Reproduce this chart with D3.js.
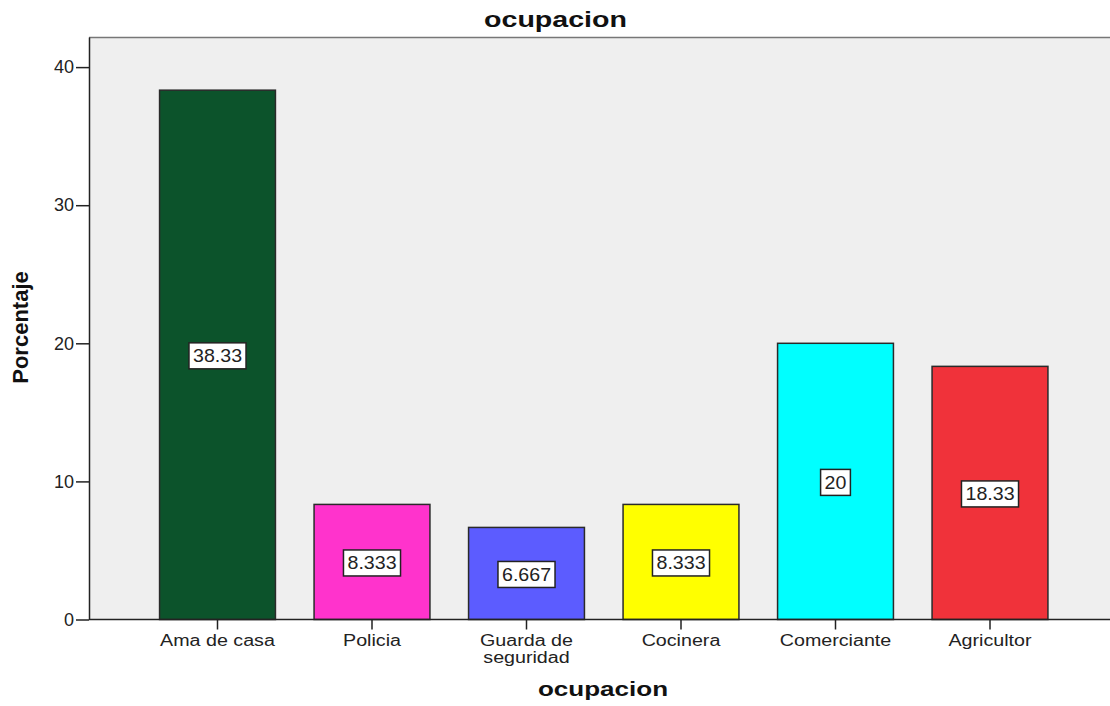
<!DOCTYPE html>
<html>
<head>
<meta charset="utf-8">
<script src="https://cdn.jsdelivr.net/npm/d3@7"></script>
<style>
  body { margin: 0; background: #fff; }
  svg { display: block; font-family: "Liberation Sans", Arial, sans-serif; }
</style>
</head>
<body>
<svg id="chart" width="1110" height="706"></svg>
<script>
// Occupation distribution (percent)
const categories = ["Ama de casa", "Policia", "Guarda de seguridad", "Cocinera", "Comerciante", "Agricultor"];
const categoryLines = [["Ama de casa"], ["Policia"], ["Guarda de", "seguridad"], ["Cocinera"], ["Comerciante"], ["Agricultor"]];
const percentages = [38.33, 8.333, 6.667, 8.333, 20, 18.33];
const valueLabels = ["38.33", "8.333", "6.667", "8.333", "20", "18.33"];
const barColors = ["#0c532b", "#ff33cc", "#5c5cff", "#ffff00", "#00ffff", "#f0323a"];
const yTicks = [0, 10, 20, 30, 40];

const svg = d3.select("#chart");
const plot = { left: 89, top: 37, right: 1110, bottom: 619.5 };
const FONT = "'Liberation Sans', Arial, sans-serif";

const x = d3.scaleBand()
  .domain(categories)
  .range([140.25, 1067.25])
  .paddingInner(0.25)
  .paddingOuter(0.125);

const y = d3.scaleLinear()
  .domain([0, 42.18])
  .range([plot.bottom, plot.top]);

// Plot background
svg.append("rect")
  .attr("x", plot.left).attr("y", plot.top)
  .attr("width", plot.right - plot.left).attr("height", plot.bottom - plot.top)
  .attr("fill", "#efefef");

// Top frame line
svg.append("line")
  .attr("x1", plot.left).attr("x2", plot.right)
  .attr("y1", plot.top + 0.5).attr("y2", plot.top + 0.5)
  .attr("stroke", "#777").attr("stroke-width", 1.5);

// Bars
svg.append("g").selectAll("rect")
  .data(categories)
  .join("rect")
  .attr("x", d => x(d))
  .attr("y", (d, i) => y(percentages[i]))
  .attr("width", x.bandwidth())
  .attr("height", (d, i) => y(0) - y(percentages[i]))
  .attr("fill", (d, i) => barColors[i])
  .attr("stroke", "#2a2a2a")
  .attr("stroke-width", 1.5);

// Value labels in boxes at half bar height
const labels = svg.append("g").selectAll("g")
  .data(categories)
  .join("g")
  .attr("transform", (d, i) => `translate(${x(d) + x.bandwidth() / 2},${y(percentages[i] / 2) + 1})`);

labels.append("text")
  .attr("text-anchor", "middle")
  .attr("dy", "0.36em")
  .attr("font-size", 18)
  .attr("fill", "#222")
  .attr("transform", "scale(1.09,1)")
  .text((d, i) => valueLabels[i])
  .each(function () {
    const bb = this.getBBox();
    const w = bb.width * 1.09;
    d3.select(this.parentNode).insert("rect", "text")
      .attr("x", -w / 2 - 4).attr("y", -13)
      .attr("width", w + 8).attr("height", 26)
      .attr("fill", "#fff")
      .attr("stroke", "#222")
      .attr("stroke-width", 1.5);
  });

// Y axis
const yAxis = svg.append("g")
  .attr("transform", `translate(${plot.left},0)`)
  .call(d3.axisLeft(y).tickValues(yTicks).tickSize(13).tickPadding(2).tickSizeOuter(0));
yAxis.select(".domain").attr("stroke", "#222").attr("stroke-width", 1.5);
yAxis.selectAll(".tick line").attr("stroke", "#222").attr("stroke-width", 1.5);
yAxis.selectAll(".tick text").attr("font-size", 18).attr("fill", "#222")
  .attr("font-family", FONT);

// X axis
const xAxis = svg.append("g")
  .attr("transform", `translate(0,${plot.bottom})`)
  .call(d3.axisBottom(x).tickSize(10).tickSizeOuter(0).tickFormat(""));
xAxis.select(".domain").attr("d", `M${plot.left},0H${plot.right}`)
  .attr("stroke", "#222").attr("stroke-width", 1.5);
xAxis.selectAll(".tick line").attr("stroke", "#222").attr("stroke-width", 1.5);

// Category labels, one text element per line
xAxis.selectAll(".tick")
  .selectAll("text.cat")
  .data(d => categoryLines[categories.indexOf(d)])
  .join("text")
  .attr("class", "cat")
  .attr("text-anchor", "middle")
  .attr("font-size", 16)
  .attr("fill", "#222")
  .attr("font-family", FONT)
  .attr("transform", (d, i) => `translate(0,${26.5 + i * 17}) scale(1.23,1)`)
  .text(d => d);

// Titles
svg.append("text")
  .attr("transform", "translate(555.5,27) scale(1.3,1)")
  .attr("text-anchor", "middle")
  .attr("font-size", 22).attr("font-weight", "bold").attr("fill", "#111")
  .text("ocupacion");

svg.append("text")
  .attr("transform", "translate(603,696) scale(1.24,1)")
  .attr("text-anchor", "middle")
  .attr("font-size", 21).attr("font-weight", "bold").attr("fill", "#111")
  .text("ocupacion");

svg.append("text")
  .attr("transform", "translate(28,327.5) rotate(-90)")
  .attr("text-anchor", "middle")
  .attr("font-size", 22).attr("font-weight", "bold").attr("fill", "#111")
  .text("Porcentaje");
</script>
</body>
</html>
